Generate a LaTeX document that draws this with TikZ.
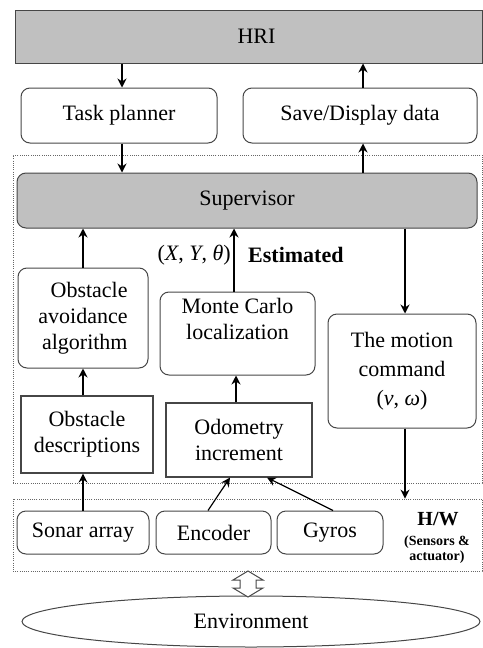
\documentclass[tikz,border=0pt]{standalone}
\usepackage{fontspec}
\setmainfont{Liberation Serif}
\usetikzlibrary{arrows.meta,calc,shapes.geometric}
\definecolor{boxgray}{RGB}{192,192,192}
\definecolor{edge}{RGB}{70,70,70}
\tikzset{
  base/.style={inner sep=0pt, align=center, font=\fontsize{22}{26}\selectfont},
  rbox/.style={base, draw=edge, line width=1pt, rounded corners=9pt},
  sbox/.style={base, draw=edge, line width=1.1pt},
  hribox/.style={base, draw=edge, line width=1pt, fill=boxgray},
  dotbox/.style={draw=black!60, line width=0.9pt, dash pattern=on 1pt off 1.2pt, inner sep=0pt},
  conn/.style={line width=1.2pt, -{Stealth[length=9pt,width=9pt,inset=3pt]}},
  smallbold/.style={inner sep=0pt, font=\fontsize{14}{15}\selectfont\bfseries},
}
\begin{document}
\begin{tikzpicture}[x=1pt,y=-1pt]
\useasboundingbox (0,0) rectangle (482,648);
% dotted regions
\node[dotbox, minimum width=469pt, minimum height=328pt] (sw) at (247.5,319) {};
\node[dotbox, minimum width=469pt, minimum height=72pt] (hw) at (247.5,535) {};
% top
\node[hribox, minimum width=467pt, minimum height=53pt] (hri) at (248.5,36.5) {\hspace{16pt}HRI};
\node[rbox, minimum width=196pt, minimum height=55pt] (task) at (119,115.5) {Task planner};
\node[rbox, minimum width=234pt, minimum height=55pt] (save) at (360,115.5) {Save/Display data};
% supervisor
\node[rbox, fill=boxgray, minimum width=460pt, minimum height=55pt] (sup) at (247,200.5) {Supervisor};
% middle
\node[rbox, minimum width=130pt, minimum height=100pt, align=right] (oa) at (83,318) {Obstacle\\avoidance\\algorithm};
\node[rbox, minimum width=155pt, minimum height=83pt] (mc) at (237.5,333.5) {Monte Carlo\\localization\\[4pt]};
\node[rbox, minimum width=148pt, minimum height=114pt, font=\fontsize{22}{29}\selectfont] (motion) at (402,371) {The motion\\command\\(\textit{v}, \textit{ω})};
\node[sbox, minimum width=132pt, minimum height=77pt] (od) at (87,434.5) {Obstacle\\descriptions};
\node[sbox, minimum width=146pt, minimum height=74pt] (odo) at (239,440) {Odometry\\increment};
% labels
\node[base, anchor=east] (pose) at (231,255) {(\textit{X}, \textit{Y}, \textit{θ})};
\node[base, anchor=west, font=\fontsize{22}{26}\selectfont\bfseries] (est) at (248,255) {Estimated};
% hardware
\node[rbox, minimum width=132pt, minimum height=43pt] (sonar) at (83,532.5) {Sonar array};
\node[rbox, minimum width=115pt, minimum height=43pt] (enc) at (213.5,532.5) {Encoder};
\node[rbox, minimum width=106pt, minimum height=43pt] (gyros) at (330,532.5) {Gyros};
\node[inner sep=0pt, font=\fontsize{20}{22}\selectfont\bfseries] (hwlabel) at (438,519) {H/W};
\node[smallbold] (sens) at (437,542) {(Sensors \&};
\node[smallbold] (act) at (437,557) {actuator)};
% environment
\node[ellipse, draw=edge, line width=1pt, inner sep=0pt, minimum width=458pt, minimum height=51pt, font=\fontsize{22}{26}\selectfont] (env) at (251,621.5) {Environment};
% connectors
\draw[conn] ([xshift=3pt]task.north |- hri.south) -- ([xshift=3pt]task.north);
\draw[conn] ([xshift=3pt]save.north) -- ([xshift=3pt]save.north |- hri.south);
\draw[conn] ([xshift=3pt]task.south) -- ([xshift=3pt]task.south |- sup.north);
\draw[conn] ([xshift=3pt]save.south |- sup.north) -- ([xshift=3pt]save.south);
\draw[conn] (oa.north) -- (oa.north |- sup.south);
\draw[conn] ([xshift=-3.5pt]mc.north) -- ([xshift=-3.5pt]mc.north |- sup.south);
\draw[conn] ([xshift=3pt]motion.north |- sup.south) -- ([xshift=3pt]motion.north);
\draw[conn] (oa.south |- od.north) -- (oa.south);
\draw[conn] ([xshift=-3pt]odo.north) -- ([xshift=-3pt]odo.north |- mc.south);
\draw[conn] (sonar.north) -- (sonar.north |- od.south);
\draw[conn] ([xshift=-5.5pt]enc.north) -- ([xshift=-9pt]odo.south);
\draw[conn] ([xshift=3pt]gyros.north) -- ([xshift=28pt]odo.south);
\draw[conn] ([xshift=3pt]motion.south) -- ([xshift=3pt]motion.south |- hw.north);
% hollow double arrow between H/W and environment
\draw[edge, line width=1pt, fill=white]
  (248,571) -- (263,580) -- (256,580) -- (256,588) -- (263,588) -- (248,597)
  -- (233,588) -- (240,588) -- (240,580) -- (233,580) -- cycle;
\end{tikzpicture}
\end{document}
